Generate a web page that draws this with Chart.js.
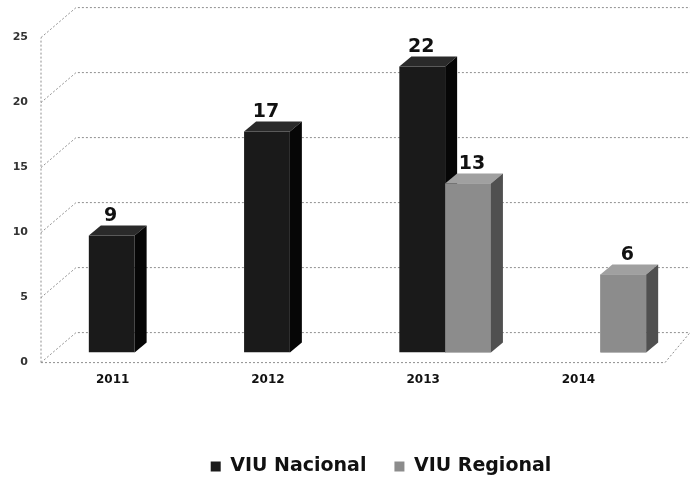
<!DOCTYPE html>
<html>
<head>
<meta charset="utf-8">
<script src="https://cdn.jsdelivr.net/npm/chart.js@4.4.1/dist/chart.umd.min.js"></script>
<style>
  html, body { margin: 0; padding: 0; background: #fff; }
  #wrap { width: 692px; height: 479px; }
</style>
</head>
<body>
<div id="wrap"><canvas id="viuChart" width="692" height="479"></canvas></div>
<script>
// VIU por año
const years = ['2011', '2012', '2013', '2014'];
const nacional = [9, 17, 22, null];
const regional = [null, null, 13, 6];
const yTicks = [0, 5, 10, 15, 20, 25];

// Colores de cara frontal / superior / lateral
const faces = [
    { front: '#1a1a1a', top: '#2a2a2a', side: '#060606' },
    { front: '#8c8c8c', top: '#a0a0a0', side: '#505050' }
];
const DX = 12, DY = -10;

// Caja 3D: plano frontal (+10 px) y pared del fondo (-20 px) respecto a las columnas
const FRONT_X = 41, BACK_X = 76, FRONT_DY = 10, BACK_DY = -20, WALL_RIGHT = 690;

function dotted(ctx, pts) {
    ctx.beginPath();
    ctx.moveTo(pts[0][0], pts[0][1]);
    for (let k = 1; k < pts.length; k++) ctx.lineTo(pts[k][0], pts[k][1]);
    ctx.stroke();
}

const wallGrid = {
    id: 'wallGrid',
    beforeDatasetsDraw(chart) {
        const ctx = chart.ctx;
        const y = chart.scales.y;
        ctx.save();
        ctx.strokeStyle = '#8f8f8f';
        ctx.lineWidth = 1;
        ctx.setLineDash([2, 2]);
        yTicks.forEach(v => {
            const py = y.getPixelForValue(v);
            if (v === 0) return;
            dotted(ctx, [[FRONT_X, py + FRONT_DY], [BACK_X, py + BACK_DY], [WALL_RIGHT, py + BACK_DY]]);
        });
        const y0 = y.getPixelForValue(0), yTop = y.getPixelForValue(yTicks[yTicks.length - 1]);
        // eje vertical frontal
        dotted(ctx, [[FRONT_X, y0 + FRONT_DY], [FRONT_X, yTop + FRONT_DY]]);
        // suelo: borde frontal y diagonales
        dotted(ctx, [[FRONT_X, y0 + FRONT_DY], [WALL_RIGHT - 25, y0 + FRONT_DY], [WALL_RIGHT, y0 + BACK_DY]]);
        dotted(ctx, [[FRONT_X, y0 + FRONT_DY], [BACK_X, y0 + BACK_DY], [WALL_RIGHT, y0 + BACK_DY]]);
        ctx.restore();
    }
};

function drawFaces(ctx, bar, c) {
    const p = bar.getProps(['x', 'y', 'base', 'width'], true);
    const l = p.x - p.width / 2, r = p.x + p.width / 2;
    ctx.fillStyle = c.top;
    ctx.beginPath();
    ctx.moveTo(l, p.y); ctx.lineTo(l + DX, p.y + DY);
    ctx.lineTo(r + DX, p.y + DY); ctx.lineTo(r, p.y);
    ctx.closePath(); ctx.fill();
    ctx.fillStyle = c.side;
    ctx.beginPath();
    ctx.moveTo(r, p.y); ctx.lineTo(r + DX, p.y + DY);
    ctx.lineTo(r + DX, p.base + DY); ctx.lineTo(r, p.base);
    ctx.closePath(); ctx.fill();
}

// Columnas en 3D: nacional primero, la regional queda delante
const depthBars = {
    id: 'depthBars',
    afterDatasetsDraw(chart) {
        const ctx = chart.ctx;
        ctx.save();
        chart.data.datasets.forEach((ds, i) => {
            chart.getDatasetMeta(i).data.forEach((bar, j) => {
                if (ds.data[j] == null) return;
                if (i === 1) bar.draw(ctx);
                drawFaces(ctx, bar, faces[i]);
            });
        });
        ctx.restore();
    }
};

// Valor encima de cada columna
const valueLabels = {
    id: 'valueLabels',
    afterDatasetsDraw(chart) {
        const ctx = chart.ctx;
        ctx.save();
        ctx.font = 'bold 19px "DejaVu Sans"';
        ctx.fillStyle = '#111';
        ctx.textAlign = 'center';
        ctx.textBaseline = 'bottom';
        chart.data.datasets.forEach((ds, i) => {
            chart.getDatasetMeta(i).data.forEach((bar, j) => {
                const v = ds.data[j];
                if (v == null) return;
                ctx.fillText(String(v), bar.x + (i === 1 ? 4 : -1), bar.y + DY);
            });
        });
        ctx.restore();
    }
};

// Leyenda desplazada hacia la derecha y abajo
const legendShift = {
    id: 'legendShift',
    afterLayout(chart) {
        const lg = chart.legend;
        lg.left += 42; lg.right += 42;
        lg.top += 7; lg.bottom += 7;
    }
};

new Chart(document.getElementById('viuChart'), {
    type: 'bar',
    data: {
        labels: years,
        datasets: [{
            label: 'VIU Nacional',
            data: nacional,
            backgroundColor: faces[0].front
        }, {
            label: 'VIU Regional',
            data: regional,
            backgroundColor: faces[1].front
        }]
    },
    options: {
        responsive: false,
        animation: false,
        categoryPercentage: 0.59,
        barPercentage: 1,
        layout: { padding: { left: 0, right: 14, top: 16, bottom: 0 } },
        scales: {
            x: {
                grid: { display: false },
                border: { display: false },
                afterFit: axis => { axis.height += 23; },
                ticks: {
                    labelOffset: -22,
                    padding: 12,
                    color: '#111',
                    font: { family: 'DejaVu Sans', size: 12, weight: 'bold' }
                }
            },
            y: {
                min: 0,
                max: 25,
                afterBuildTicks: axis => { axis.ticks = yTicks.map(v => ({ value: v })); },
                afterFit: axis => { axis.width = 57; },
                grid: { display: false },
                border: { display: false },
                ticks: {
                    padding: 21,
                    labelOffset: FRONT_DY,
                    color: '#333',
                    font: { family: 'DejaVu Sans', size: 11, weight: 'bold' }
                }
            }
        },
        plugins: {
            legend: {
                position: 'bottom',
                labels: {
                    boxWidth: 10,
                    boxHeight: 10,
                    padding: 28,
                    color: '#111',
                    font: { family: 'DejaVu Sans', size: 19, weight: 'bold' }
                }
            },
            tooltip: { enabled: false }
        }
    },
    plugins: [wallGrid, depthBars, valueLabels, legendShift]
});
</script>
</body>
</html>
